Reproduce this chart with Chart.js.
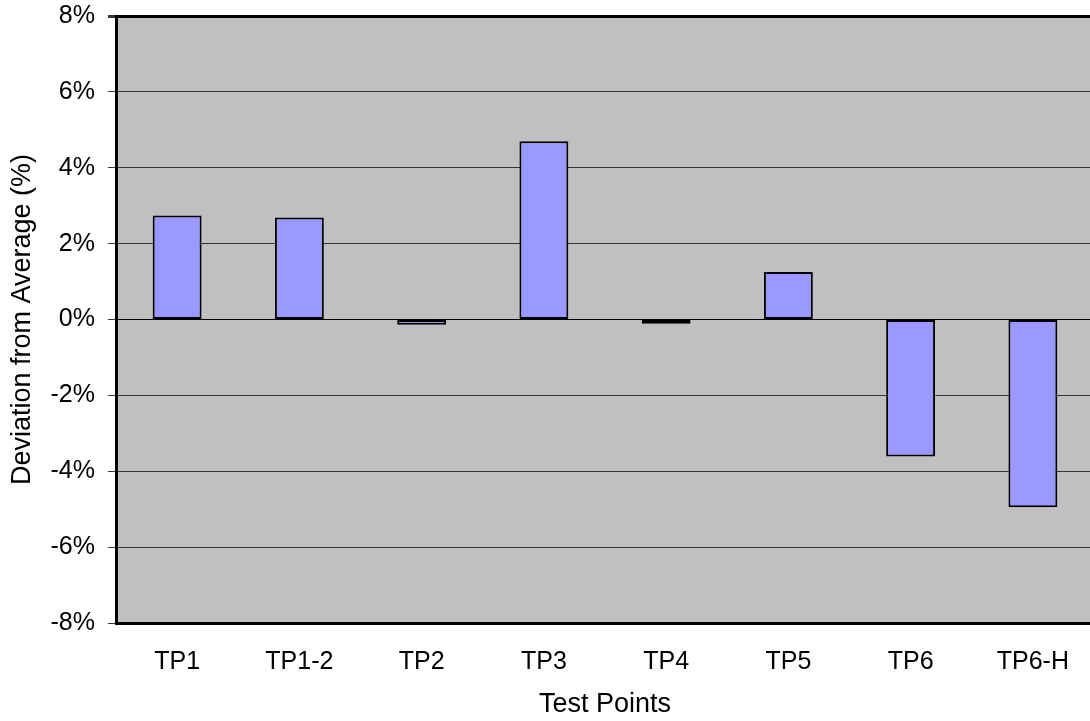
<!DOCTYPE html>
<html>
<head>
<meta charset="utf-8">
<script src="https://cdn.jsdelivr.net/npm/chart.js@4"></script>
<style>
  html, body { margin: 0; padding: 0; background: #fff; overflow: hidden; }
  #wrap { width: 1094px; height: 721px; }
</style>
</head>
<body>
<div id="wrap"><canvas id="theChart"></canvas></div>
<script>
const testPoints = ['TP1', 'TP1-2', 'TP2', 'TP3', 'TP4', 'TP5', 'TP6', 'TP6-H'];
const deviation = [2.74, 2.69, -0.14, 4.70, -0.11, 1.25, -3.61, -4.95]; // percent
const yTicks = [-8, -6, -4, -2, 0, 2, 4, 6, 8];

const FONT = 'Liberation Sans, Arial, sans-serif';

// grey plot background
const plotBg = {
  id: 'plotBg',
  beforeDraw(chart) {
    const { ctx, chartArea: a } = chart;
    ctx.save();
    ctx.fillStyle = '#C0C0C0';
    ctx.fillRect(a.left, a.top, a.right - a.left, a.bottom - a.top);
    ctx.restore();
  }
};

const cfg = {
  type: 'bar',
  data: {
    labels: testPoints,
    datasets: [{
      data: deviation,
      backgroundColor: '#9999FF',
      borderColor: '#000000',
      borderWidth: 2,
      borderSkipped: false,
      categoryPercentage: 1,
      barPercentage: 0.4
    }]
  },
  options: {
    responsive: true,
    maintainAspectRatio: false,
    animation: false,
    layout: { padding: { left: 0, right: 0, top: 16, bottom: 0 } },
    plugins: {
      legend: { display: false },
      tooltip: { enabled: false }
    },
    scales: {
      x: {
        grid: { display: false, drawTicks: false },
        border: { display: true, color: '#000', width: 3 },
        ticks: { color: '#000', font: { family: FONT, size: 25 }, padding: 24 },
        title: {
          display: true, text: 'Test Points', color: '#000',
          font: { family: FONT, size: 27 }, padding: { top: 0, bottom: 0 }
        },
        afterFit(s) { s.height = 98; }
      },
      y: {
        min: -8, max: 8,
        afterBuildTicks(s) { s.ticks = yTicks.map(v => ({ value: v })); },
        grid: {
          color: c => (c.tick && (c.tick.value === 0 || c.tick.value === 8)) ? '#000' : '#333',
          lineWidth: c => (c.tick && c.tick.value === 8) ? 3 : 1,
          tickLength: 8,
          tickColor: '#333'
        },
        border: { display: true, color: '#000', width: 3 },
        ticks: {
          color: '#000', font: { family: FONT, size: 25 }, padding: 13,
          callback: v => v + '%'
        },
        title: {
          display: true, text: 'Deviation from Average (%)', color: '#000',
          font: { family: FONT, size: 27 }, padding: { top: 6, bottom: 0 }
        },
        afterFit(s) {
          s.width = 116;
          s.paddingTop = 0;
          s.paddingBottom = 0;
        }
      }
    }
  },
  plugins: [plotBg]
};

const myChart = new Chart(document.getElementById('theChart').getContext('2d'), cfg);
</script>
</body>
</html>
